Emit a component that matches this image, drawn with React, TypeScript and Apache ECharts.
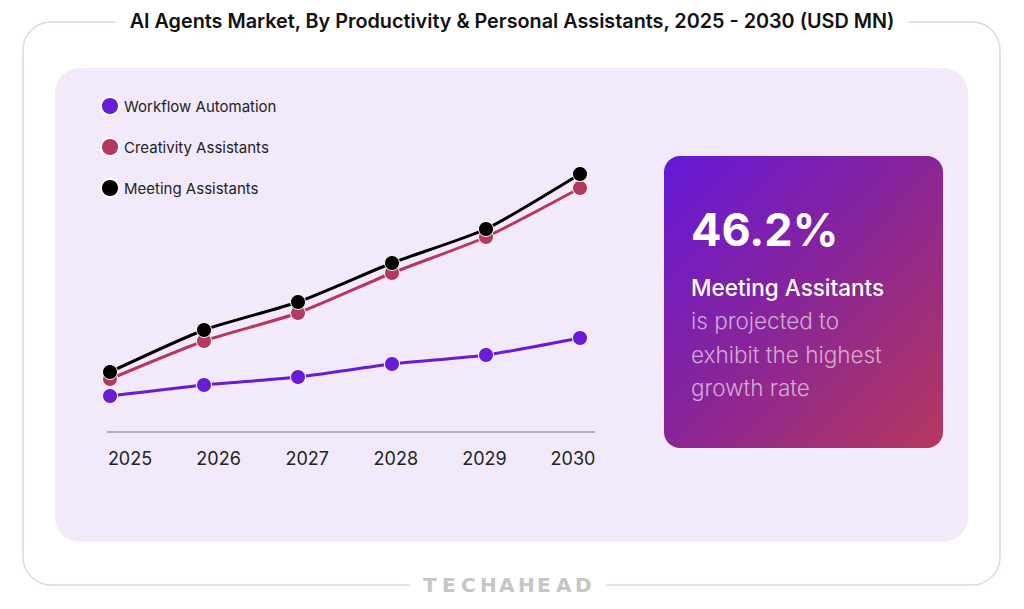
import React, { useEffect, useRef } from "react";
import * as echarts from "echarts";

const years = ["2025", "2026", "2027", "2028", "2029", "2030"];
const workflowAutomation = [36, 47, 55, 68, 77, 94];
const creativityAssistants = [53, 91, 119, 159, 195, 244];
const meetingAssistants = [60, 102, 130, 169, 203, 258];

const seriesNames = ["Workflow Automation", "Creativity Assistants", "Meeting Assistants"];
const seriesColors = ["#6a1bd6", "#b5395e", "#000000"];

const titleText = "AI Agents Market, By Productivity & Personal Assistants, 2025 - 2030 (USD MN)";
const calloutValue = "46.2%";
const calloutHead = "Meeting Assitants";
const calloutLines = ["is projected to", "exhibit the highest", "growth rate"];
const brand = "TECHAHEAD";

const FONT = "Inter, 'Noto Sans', sans-serif";

export default function App() {
  const ref = useRef<HTMLDivElement>(null);
  useEffect(() => {
    document.body.style.margin = "0";
    if (!ref.current) return;
    const chart = echarts.init(ref.current, undefined, { renderer: "svg" });
    const dataSets = [workflowAutomation, creativityAssistants, meetingAssistants];
    const brandChars = brand.split("");
    const option: any = {
      animation: false,
      backgroundColor: "#ffffff",
      textStyle: { fontFamily: FONT },
      title: {
        text: titleText,
        left: "center",
        top: 9,
        padding: [2, 14],
        backgroundColor: "#ffffff",
        textStyle: { fontSize: 19.8, fontWeight: 600, color: "#111111", fontFamily: FONT },
        z: 10,
      },
      legend: {
        orient: "vertical",
        left: 100,
        top: 96,
        padding: 0,
        itemWidth: 18,
        itemHeight: 18,
        itemGap: 21,
        icon: "circle",
        data: seriesNames,
        textStyle: { fontSize: 15, color: "#222222", fontFamily: FONT, lineHeight: 18 },
      },
      grid: [
        { left: 110, width: 470, top: 132, height: 300 },
        { left: 130, width: 443, top: 132, height: 300 },
      ],
      xAxis: [
        {
          type: "category",
          gridIndex: 0,
          data: years,
          boundaryGap: false,
          show: false,
        },
        {
          type: "category",
          gridIndex: 1,
          data: years,
          boundaryGap: false,
          axisLine: { show: false },
          axisTick: { show: false },
          axisLabel: { fontSize: 18, color: "#222222", margin: 17, fontFamily: FONT },
        },
      ],
      yAxis: [
        { type: "value", gridIndex: 0, min: 0, max: 300, show: false },
        { type: "value", gridIndex: 1, min: 0, max: 300, show: false },
      ],
      series: seriesNames.map((name, i) => ({
        name,
        type: "line",
        xAxisIndex: 0,
        yAxisIndex: 0,
        data: dataSets[i],
        smooth: 0.2,
        symbol: "circle",
        symbolSize: 15,
        lineStyle: { width: 3, color: seriesColors[i] },
        itemStyle: { color: seriesColors[i], borderColor: "#ffffff", borderWidth: 1 },
        z: 3 + i,
      })),
      graphic: [
        {
          type: "rect",
          z: -10,
          silent: true,
          shape: { x: 23, y: 22, width: 977, height: 563, r: 28 },
          style: { fill: "#ffffff", stroke: "#dcd6f0", lineWidth: 1.5 },
        },
        {
          type: "rect",
          z: -9,
          silent: true,
          shape: { x: 55, y: 68, width: 913, height: 474, r: 25 },
          style: { fill: "#f2eafb" },
        },
        {
          type: "line",
          z: 1,
          silent: true,
          shape: { x1: 107, y1: 432, x2: 595, y2: 432 },
          style: { stroke: "#9a9a9a", lineWidth: 1.5 },
        },
        {
          type: "rect",
          z: 1,
          silent: true,
          shape: { x: 664, y: 156, width: 279, height: 292, r: 16 },
          style: {
            fill: new echarts.graphic.LinearGradient(0, 0, 1, 1, [
              { offset: 0, color: "#6418d8" },
              { offset: 0.5, color: "#8a2596" },
              { offset: 1, color: "#b5385c" },
            ]),
          },
        },
        {
          type: "text",
          z: 2,
          silent: true,
          left: 691,
          top: 207,
          style: { text: calloutValue, fill: "#ffffff", fontSize: 45, fontWeight: 700, fontFamily: FONT },
        },
        {
          type: "text",
          z: 2,
          silent: true,
          left: 691,
          top: 276,
          style: { text: calloutHead, fill: "#ffffff", fontSize: 22.5, fontWeight: 500, fontFamily: FONT },
        },
        ...calloutLines.map((t, i) => ({
          type: "text",
          z: 2,
          silent: true,
          left: 691,
          top: 309 + i * 33.5,
          style: { text: t, fill: "rgba(255,255,255,0.62)", fontSize: 22.5, fontWeight: 300, fontFamily: FONT },
        })),
        {
          type: "rect",
          z: 2,
          silent: true,
          shape: { x: 410, y: 574, width: 196, height: 22 },
          style: { fill: "#ffffff" },
        },
        ...brandChars.map((c, i) => ({
          type: "text",
          z: 5,
          silent: true,
          x: 423 + i * 19,
          y: 575,
          style: {
            text: c,
            fill: "#c6c6c6",
            fontSize: 20,
            fontWeight: 800,
            fontFamily: "'DejaVu Sans', sans-serif",
          },
        })),
      ],
    };
    chart.setOption(option);
    return () => chart.dispose();
  }, []);
  return <div ref={ref} style={{ width: 1024, height: 609 }} />;
}
